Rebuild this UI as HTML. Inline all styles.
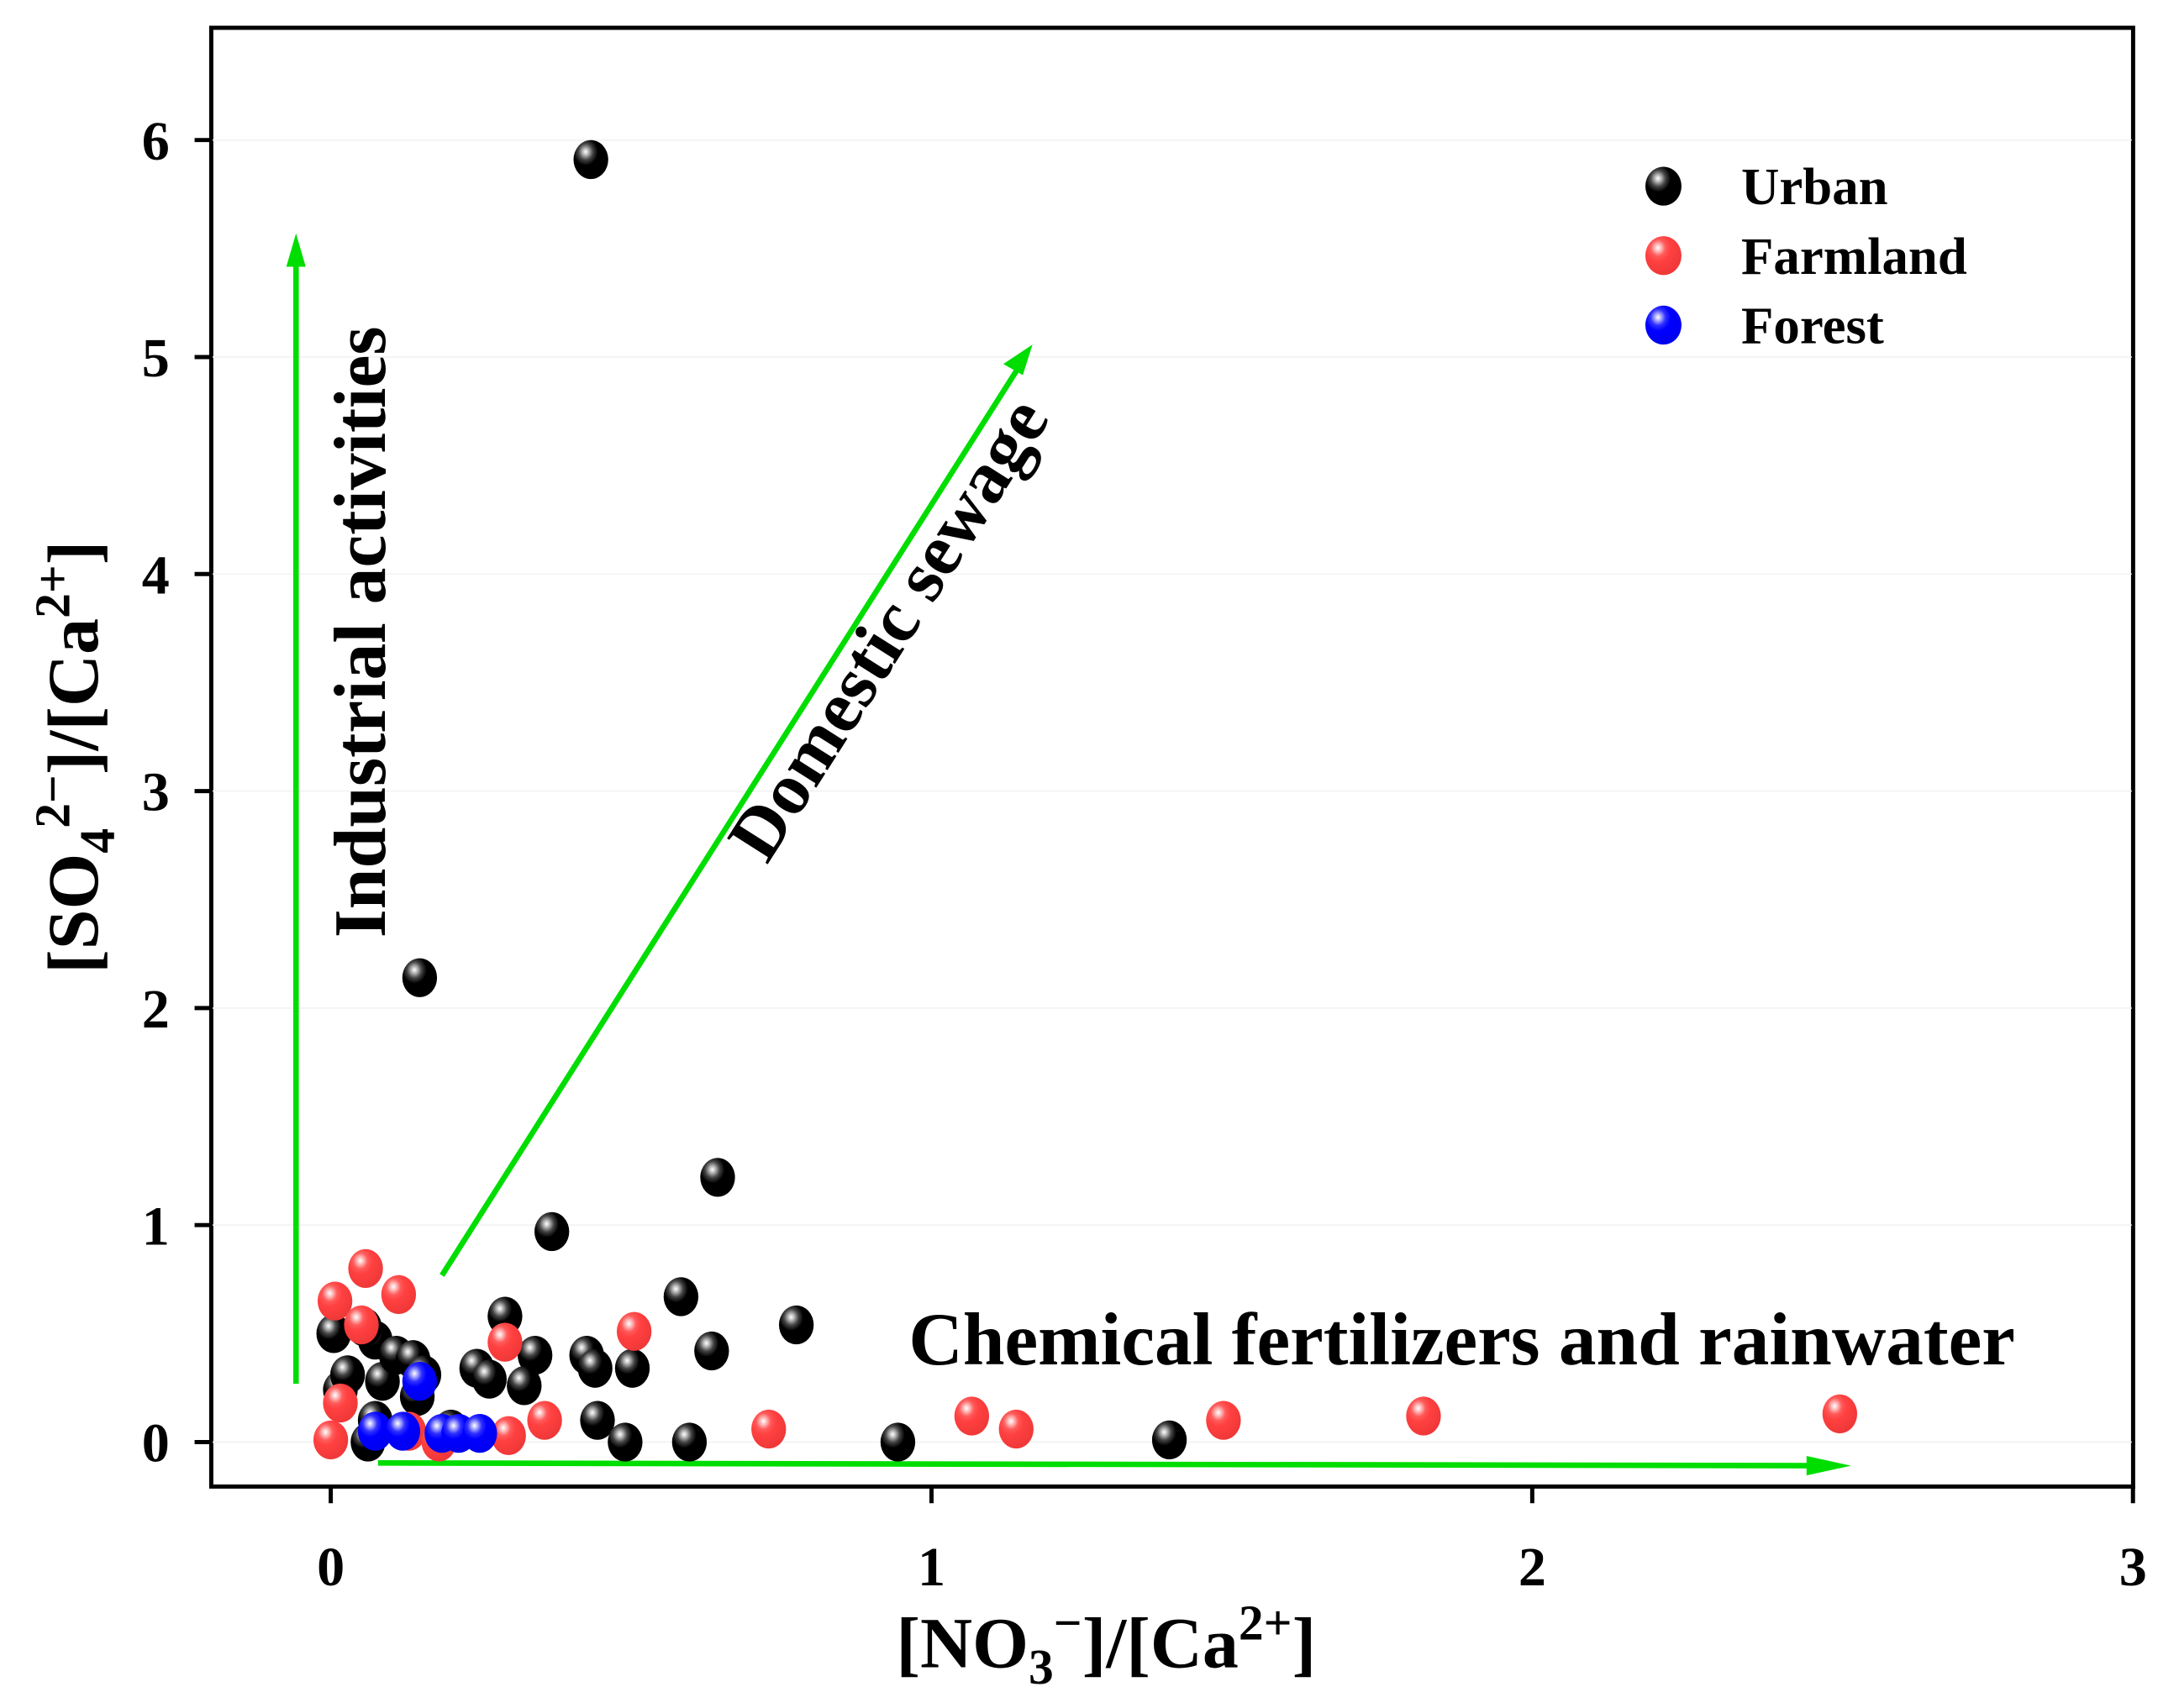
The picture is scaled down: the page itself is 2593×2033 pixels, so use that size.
<!DOCTYPE html>
<html><head><meta charset="utf-8"><style>
html,body{margin:0;padding:0;background:#fff;}
svg{display:block;font-family:"Liberation Serif",serif;font-weight:bold;}
</style></head><body>
<svg id="chart" width="2593" height="2033" viewBox="0 0 1568 1229.4" xmlns="http://www.w3.org/2000/svg">
<defs>
<radialGradient id="gU" cx="0.35" cy="0.3" r="0.7"><stop offset="0" stop-color="#fff"/><stop offset="0.12" stop-color="#bbb"/><stop offset="0.3" stop-color="#444"/><stop offset="0.5" stop-color="#000"/><stop offset="1" stop-color="#000"/></radialGradient>
<radialGradient id="gF" cx="0.35" cy="0.3" r="0.7"><stop offset="0" stop-color="#fff"/><stop offset="0.12" stop-color="#ffc0c0"/><stop offset="0.3" stop-color="#ff5a5a"/><stop offset="0.5" stop-color="#ff4040"/><stop offset="1" stop-color="#f03838"/></radialGradient>
<radialGradient id="gB" cx="0.35" cy="0.3" r="0.7"><stop offset="0" stop-color="#fff"/><stop offset="0.12" stop-color="#b0b0ff"/><stop offset="0.3" stop-color="#3030ff"/><stop offset="0.5" stop-color="#0000ff"/><stop offset="1" stop-color="#0000f0"/></radialGradient>
</defs>
<rect x="152" y="20" width="1383" height="1050" fill="none" stroke="#000" stroke-width="3"/>
<g id="grid"></g><g id="axes"></g>
<g id="arrows">
<line x1="213" y1="996" x2="213" y2="190" stroke="#00dd00" stroke-width="4"/>
<polygon points="213,168 206,192 220,192" fill="#00dd00"/>
<line x1="318" y1="918" x2="732" y2="266" stroke="#00dd00" stroke-width="4"/>
<polygon points="743,248 722,262 736,270" fill="#00dd00"/>
<line x1="272" y1="1053" x2="1308" y2="1055" stroke="#00dd00" stroke-width="4"/>
<polygon points="1332,1055 1300,1048 1300,1062" fill="#00dd00"/>
</g>
<text transform="translate(277,455) rotate(-90)" text-anchor="middle" font-size="53">Industrial activities</text>
<text transform="translate(654,462) rotate(-57.6)" text-anchor="middle" font-size="53">Domestic sewage</text>
<text x="1052" y="982" text-anchor="middle" font-size="54">Chemical fertilizers and rainwater</text>
<g id="points"></g>
<g font-size="38">
<ellipse cx="1197" cy="134" rx="13" ry="14" fill="url(#gU)"/><text x="1253" y="147">Urban</text>
<ellipse cx="1197" cy="184" rx="13" ry="14" fill="url(#gF)"/><text x="1253" y="197">Farmland</text>
<ellipse cx="1197" cy="234" rx="13" ry="14" fill="url(#gB)"/><text x="1253" y="247">Forest</text>
</g>
<text x="796" y="1200" text-anchor="middle" font-size="52">[NO<tspan dy="12" font-size="36">3</tspan><tspan dy="-32" font-size="36">−</tspan><tspan dy="20">]/[Ca</tspan><tspan dy="-20" font-size="36">2+</tspan><tspan dy="20">]</tspan></text>
<text transform="translate(70,545) rotate(-90)" text-anchor="middle" font-size="52">[SO<tspan dy="12" font-size="36">4</tspan><tspan dy="-32" font-size="36">2−</tspan><tspan dy="20">]/[Ca</tspan><tspan dy="-20" font-size="36">2+</tspan><tspan dy="20">]</tspan></text>
</svg>
<script>
const xTicks=[0,1,2,3];
const yTicks=[0,1,2,3,4,5,6];
const urbanX=[0.433,0.148,0.644,0.368,0.583,0.775,0.634,0.29,0.34,0.426,0.44,0.502,0.243,0.264,0.322,0.444,0.49,0.597,0.944,1.396,0.005,0.016,0.028,0.074,0.056,0.086,0.109,0.137,0.155,0.144,0.074,0.062,0.2];
const urbanY=[5.91,2.14,1.22,0.97,0.67,0.54,0.42,0.58,0.40,0.40,0.34,0.34,0.34,0.29,0.26,0.10,0.0,0.0,0.0,0.01,0.50,0.24,0.31,0.47,0.53,0.28,0.40,0.38,0.31,0.21,0.10,0.0,0.06];
const farmX=[0.007,0.058,0.113,0.051,0.016,0.0,0.29,0.505,0.356,0.296,0.729,1.067,1.141,1.486,1.819,2.512,0.13,0.18];
const farmY=[0.65,0.80,0.68,0.54,0.18,0.01,0.46,0.51,0.10,0.03,0.06,0.12,0.06,0.10,0.12,0.13,0.05,0.0];
const forestX=[0.148,0.074,0.12,0.185,0.213,0.248];
const forestY=[0.28,0.05,0.05,0.04,0.04,0.04];
const X=v=>238+v*432.3, Y=v=>1038-v*156.2;
const NS="http://www.w3.org/2000/svg";
function mk(tag,attrs,parent){const e=document.createElementNS(NS,tag);for(const k in attrs)e.setAttribute(k,attrs[k]);parent.appendChild(e);return e;}
const axes=document.getElementById('axes'), grid=document.getElementById('grid');
xTicks.forEach(t=>{
 const l=mk('line',{x1:X(t),x2:X(t),y1:1070,y2:1082,stroke:'#000','stroke-width':3},axes);
 
 
 const tx=mk('text',{x:X(t),y:1141,'text-anchor':'middle','font-size':40},axes);tx.textContent=t;
 
 
});
yTicks.forEach(t=>{
 const g=mk('line',{x1:153,x2:1534,y1:Y(t),y2:Y(t),stroke:'#f2f2f2','stroke-width':1},grid);
 
 
 const l=mk('line',{x1:140,x2:152,y1:Y(t),y2:Y(t),stroke:'#000','stroke-width':3},axes);
 
 
 const tx=mk('text',{x:122,y:Y(t)+14,'text-anchor':'end','font-size':40},axes);tx.textContent=t;
 
 
});
const pts=document.getElementById('points');
function series(xs,ys,fill,name){xs.forEach((x,i)=>{
 const e=mk('ellipse',{cx:X(x),cy:Y(ys[i]),rx:12.5,ry:14,fill:fill},pts);
 
 
});}
series(urbanX,urbanY,'url(#gU)','urban-point');
series(farmX,farmY,'url(#gF)','farmland-point');
series(forestX,forestY,'url(#gB)','forest-point');
</script>
</body></html>
